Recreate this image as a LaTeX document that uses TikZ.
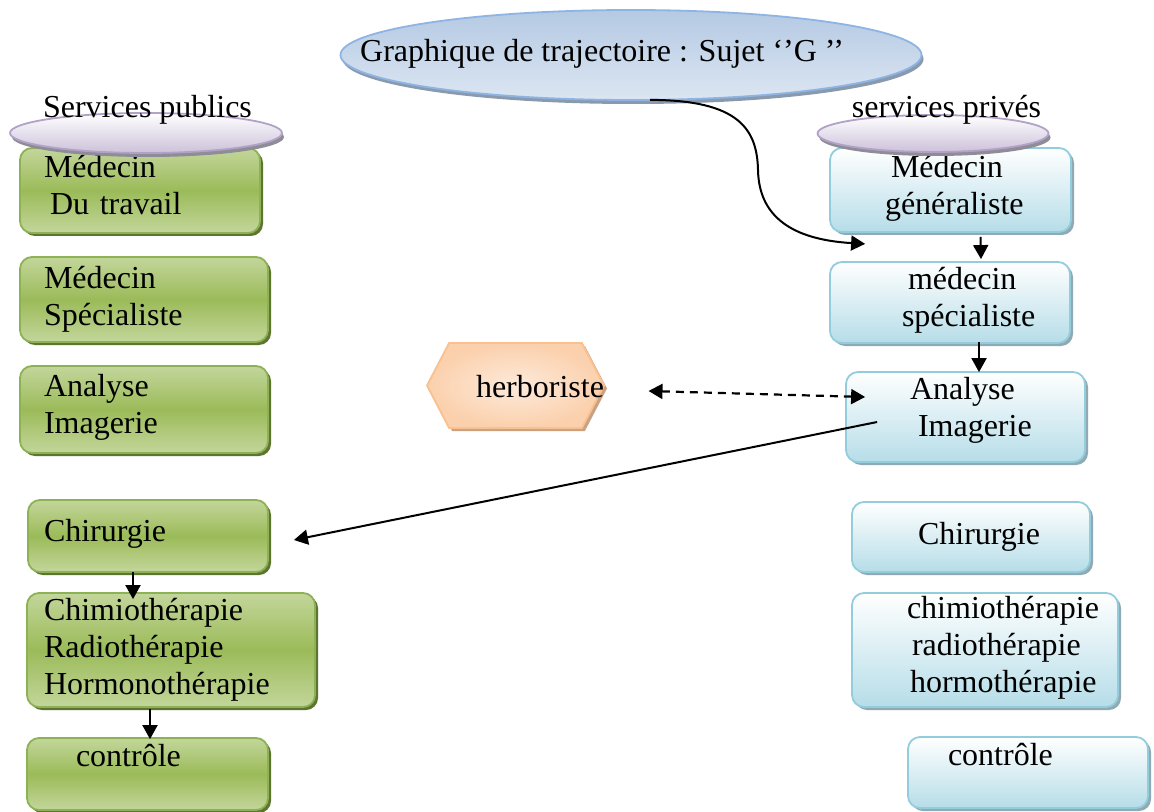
\documentclass[tikz,border=0pt]{standalone}
\usepackage{fontspec}
\setmainfont{Liberation Serif}
\usetikzlibrary{shapes.geometric,shapes.symbols,arrows.meta,shadows,calc}
\definecolor{gborder}{HTML}{8DB255}
\definecolor{gmid}{HTML}{9BBB59}
\definecolor{glight}{HTML}{C3D69B}
\definecolor{gshadow}{HTML}{5E7530}
\definecolor{bborder}{HTML}{93CDDD}
\definecolor{bbottom}{HTML}{B6DDE8}
\definecolor{bshadow}{HTML}{8FAAB3}
\definecolor{tborder}{HTML}{8EB4E3}
\definecolor{ttop}{HTML}{B4C9E3}
\definecolor{tbottom}{HTML}{DCE6F2}
\definecolor{tshadow}{HTML}{8A9AAE}
\definecolor{pborder}{HTML}{B3A2C7}
\definecolor{pbottom}{HTML}{CCC1DA}
\definecolor{pshadow}{HTML}{8E8C96}
\definecolor{hborder}{HTML}{FAC08F}
\definecolor{hin}{HTML}{FDEADA}
\definecolor{hout}{HTML}{FBD0AC}
\definecolor{hshadow}{HTML}{C9A283}
\begin{document}
\begin{tikzpicture}[x=0.5pt,y=-0.5pt,
  every node/.style={font=\fontsize{16}{18.5}\selectfont},
  gbox/.style={draw=gborder, line width=0.9pt, rounded corners=6pt,
    top color=glight, bottom color=glight, middle color=gmid,
    drop shadow={shadow xshift=1.5pt, shadow yshift=-1.5pt, fill=gshadow, opacity=1},
    align=left, inner ysep=0pt},
  bbox/.style={draw=bborder, line width=0.9pt, rounded corners=6pt,
    top color=white, bottom color=bbottom,
    drop shadow={shadow xshift=1.5pt, shadow yshift=-1.5pt, fill=bshadow, opacity=1},
    align=left, inner ysep=0pt},
  tell/.style={ellipse, draw=tborder, line width=0.9pt, top color=ttop, bottom color=tbottom,
    drop shadow={shadow xshift=1pt, shadow yshift=-2pt, fill=tshadow, opacity=1}},
  pell/.style={ellipse, draw=pborder, line width=0.9pt, top color=white, bottom color=pbottom,
    drop shadow={shadow xshift=1pt, shadow yshift=-2pt, fill=pshadow, opacity=1}},
  hexa/.style={signal, signal to=east and west, signal pointer angle=125,
    draw=hborder, line width=0.9pt, inner color=hin, outer color=hout,
    drop shadow={shadow xshift=1.5pt, shadow yshift=-1.5pt, fill=hshadow, opacity=1}},
  arr/.style={-{Triangle[length=7pt,width=7.5pt]}, line width=1pt},
  darr/.style={{Triangle[length=7pt,width=7.5pt]}-{Triangle[length=7pt,width=7.5pt]}, line width=1.1pt, dash pattern=on 4pt off 3pt}
]
\fill[white] (0,0) rectangle (1154,812);
\useasboundingbox (0,0) rectangle (1154,812);

% title
\node[tell, minimum width=290.5pt, minimum height=45pt] (g) at (631,55) {};
\node (gt) at (602,54) {Graphique de trajectoire : Sujet ‘’G ’’};

% left column (public)
\node[gbox, minimum width=120pt, minimum height=42.5pt, text width=96pt, inner xsep=12pt] (b1) at (140,190.5) {Médecin\\\hspace*{3pt}Du travail\\[-13pt]\mbox{}};
\node[gbox, minimum width=124pt, minimum height=42.5pt, text width=100pt, inner xsep=12pt] (b2) at (144,299.5) {Médecin\\Spécialiste\\[-15pt]\mbox{}};
\node[gbox, minimum width=124pt, minimum height=43.5pt, text width=100pt, inner xsep=12pt] (b3) at (144,409.5) {Analyse\\Imagerie\\[-13pt]\mbox{}};
\node[gbox, minimum width=120pt, minimum height=36pt, text width=104pt, inner xsep=8pt] (b4) at (148,536) {Chirurgie\\[-13pt]\mbox{}};
\node[gbox, minimum width=144pt, minimum height=57pt, text width=127pt, inner xsep=8.5pt] (b5) at (171,650) {Chimiothérapie\\Radiothérapie\\Hormonothérapie\\[-15pt]\mbox{}};
\node[gbox, minimum width=120.5pt, minimum height=36pt, text width=103.5pt, inner xsep=8.5pt] (b6) at (147.5,774) {\hspace*{16pt}contrôle\\\mbox{}};

% right column (private)
\node[bbox, minimum width=120.5pt, minimum height=42pt, text width=100.5pt, inner xsep=10pt] (r1) at (950.5,190) {\hspace*{20.5pt}Médecin\\\hspace*{17.5pt}généraliste\\[-13pt]\mbox{}};
\node[bbox, minimum width=120pt, minimum height=40.5pt, text width=100pt, inner xsep=10pt] (r2) at (950,302.5) {\hspace*{29pt}médecin\\\hspace*{26pt}spécialiste\\[-13pt]\mbox{}};
\node[bbox, minimum width=119.5pt, minimum height=45pt, text width=99.5pt, inner xsep=10pt] (r3) at (965.5,417) {\hspace*{22pt}Analyse\\\hspace*{26pt}Imagerie\\[-8pt]\mbox{}};
\node[bbox, minimum width=119pt, minimum height=35pt, text width=99pt, inner xsep=10pt] (r4) at (971,537) {\hspace*{23pt}Chirurgie\\[-15pt]\mbox{}};
\node[bbox, minimum width=133pt, minimum height=57pt, text width=117pt, inner xsep=8pt] (r5) at (985,650) {\hspace*{19.5pt}chimiothérapie\\\hspace*{22pt}radiothérapie\\\hspace*{21pt}hormothérapie\\[-13pt]\mbox{}};
\node[bbox, minimum width=120pt, minimum height=35.5pt, text width=100pt, inner xsep=10pt] (r6) at (1028,772.5) {\hspace*{10pt}contrôle\\\mbox{}};

% column headers
\node[pell, minimum width=136pt, minimum height=20pt] (pubell) at (146,133) {};
\node (pubt) at (147.5,110) {Services publics};
\node[pell, minimum width=115.5pt, minimum height=18.5pt] (privell) at (933,133.5) {};
\node (privt) at (946.5,110) {services privés};

% herboriste
\node[hexa, minimum width=88.5pt, minimum height=42.5pt, inner sep=0pt] (herb) at (515.5,385.5) {};
\node (herbt) at (540,387) {herboriste};

% connectors
\draw[arr] ($(g.south)+(19,-1)$) .. controls (740,100) and (757,130) .. (758,170)
  .. controls (759,222) and (800,240) .. ($(r1.south west)+(36,11)$);
\draw[arr] ($(r1.south)+(30,4)$) -- ($(r2.north)+(31,-2)$);
\draw[arr] ($(r2.south)+(29,-2)$) -- ($(r3.north)+(13.5,1)$);
\draw[darr] ($(herb.center)+(133,5.5)$) -- ($(r3.west)+(20,-20)$);
\draw[arr] ($(r3.west)+(32,5)$) -- ($(b4.east)+(25,4)$);
\draw[arr] ($(b4.south)+(-15,-1)$) -- ($(b5.north)+(-38,7)$);
\draw[arr] ($(b5.south)+(-21,1)$) -- ($(b6.north)+(2.5,2)$);
\end{tikzpicture}
\end{document}
